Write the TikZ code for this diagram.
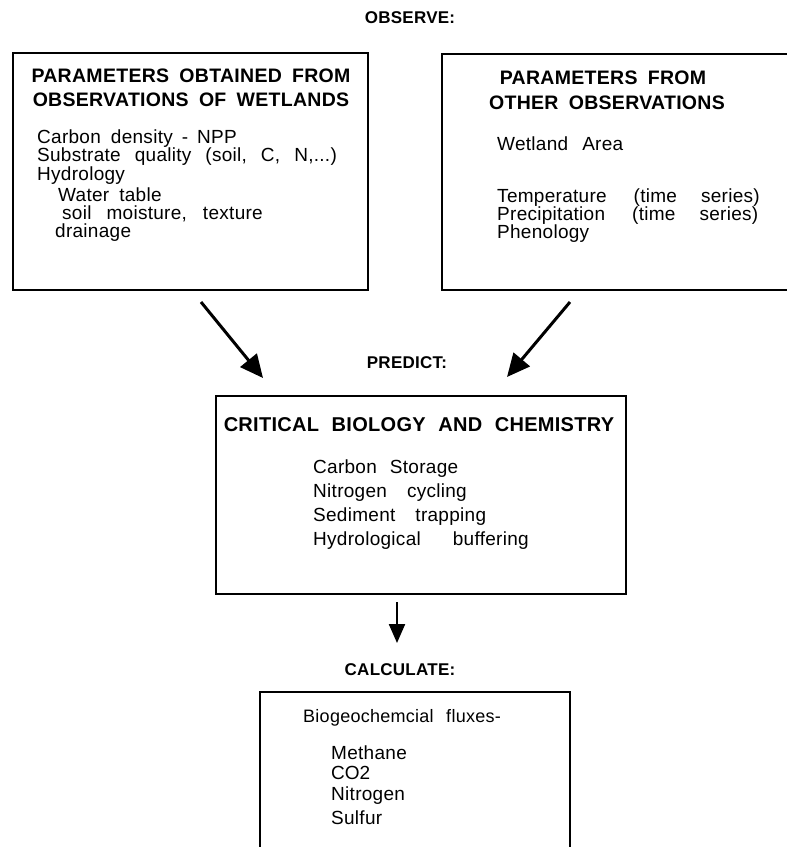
\documentclass[tikz,border=0pt]{standalone}
\usepackage{fontspec}
\setmainfont[LetterSpace=1.5,WordSpace=1.8]{Liberation Sans}
\newfontfamily\plainfont{Liberation Sans}
\usetikzlibrary{arrows.meta}
\tikzset{
  box/.style={draw, line width=2.4pt, inner sep=0pt, minimum width=#1},
  hd/.style={font=\bfseries\fontsize{19.5}{22}\selectfont, inner sep=0pt},
  sec/.style={font=\bfseries\fontsize{17}{20}\selectfont, inner sep=0pt},
  bd/.style={font=\fontsize{19}{19}\selectfont, inner sep=0pt, anchor=west},
  arr/.style={line width=3pt, -{Triangle[length=23pt,width=21pt]}},
  arrs/.style={line width=2.2pt, -{Triangle[length=19pt,width=16pt]}},
}
\begin{document}
\begin{tikzpicture}[x=1pt,y=-1pt]
\useasboundingbox (0,0) rectangle (787,847);
% section headings
\node[sec] (observe) at (410,18) {OBSERVE:};
\node[sec] (predict) at (407,363) {PREDICT:};
\node[sec] (calculate) at (400,670) {CALCULATE:};
% left box
\node[box=355pt, minimum height=237pt, anchor=north west] (lbox) at (12,52) {};
\node[hd] (lh1) at (191,76) {PARAMETERS OBTAINED FROM};
\node[hd] (lh2) at (191,100) {OBSERVATIONS OF WETLANDS};
\node[bd] (l1) at (37,139) {Carbon density\hspace{-1pt} -\hspace{-1pt} NPP};
\node[bd] (l2) at (37,157) {Substrate\hspace{4pt} quality\hspace{4pt} (soil,\hspace{4pt} C,\hspace{4pt} N,...)};
\node[bd] (l3) at (37,176) {Hydrology};
\node[bd] (l4) at (58,195) {Water table};
\node[bd] (l5) at (62,214) {soil\hspace{5pt} moisture,\hspace{6pt} texture};
\node[bd] (l6) at (55,233) {drainage};
% right box
\node[box=370pt, minimum height=236pt, anchor=north west] (rbox) at (441,53) {};
\node[hd] (rh1) at (603,78) {PARAMETERS FROM};
\node[hd] (rh2) at (607,103) {OTHER OBSERVATIONS};
\node[bd] (r1) at (497,144) {Wetland\hspace{4pt} Area};
\node[bd] (r2) at (497,198) {Temperature\hspace{17pt} (time\hspace{14pt} series)};
\node[bd] (r3) at (497,216) {Precipitation\hspace{17pt} (time\hspace{14pt} series)};
\node[bd] (r4) at (497,234) {Phenology};
% predict box
\node[box=410pt, minimum height=198pt, anchor=north west] (pbox) at (215,395) {};
\node[hd, font=\bfseries\fontsize{20}{22}\selectfont] (ph) at (419,425) {CRITICAL\hspace{2pt} BIOLOGY\hspace{2pt} AND\hspace{2pt} CHEMISTRY};
\node[bd] (p1) at (313,469) {Carbon\hspace{3pt} Storage};
\node[bd] (p2) at (313,493) {Nitrogen\hspace{10pt} cycling};
\node[bd] (p3) at (313,517) {Sediment\hspace{10pt} trapping};
\node[bd] (p4) at (313,541) {Hydrological\hspace{22pt} buffering};
% bottom (open) box
\coordinate (cbl) at (260,847);
\coordinate (cbr) at (570,847);
\draw[line width=2.4pt] (cbl) |- (570,692) -- (cbr);
\node[bd, font=\fontsize{18}{18}\selectfont] (c0) at (303,718) {Biogeochemcial\hspace{3pt} fluxes-};
\node[bd] (c1) at (331,753) {Methane};
\node[bd] (c2) at (331,773) {\plainfont CO2};
\node[bd] (c3) at (331,796) {Nitrogen};
\node[bd] (c4) at (331,818) {Sulfur};
% arrows
\coordinate (a1s) at (201,302); \coordinate (a1e) at (263,378);
\coordinate (a2s) at (570,302); \coordinate (a2e) at (507,377);
\coordinate (a3s) at (397,602); \coordinate (a3e) at (397,643);
\draw[arr] (a1s) -- (a1e);
\draw[arr] (a2s) -- (a2e);
\draw[arrs] (a3s) -- (a3e);
\end{tikzpicture}
\end{document}
